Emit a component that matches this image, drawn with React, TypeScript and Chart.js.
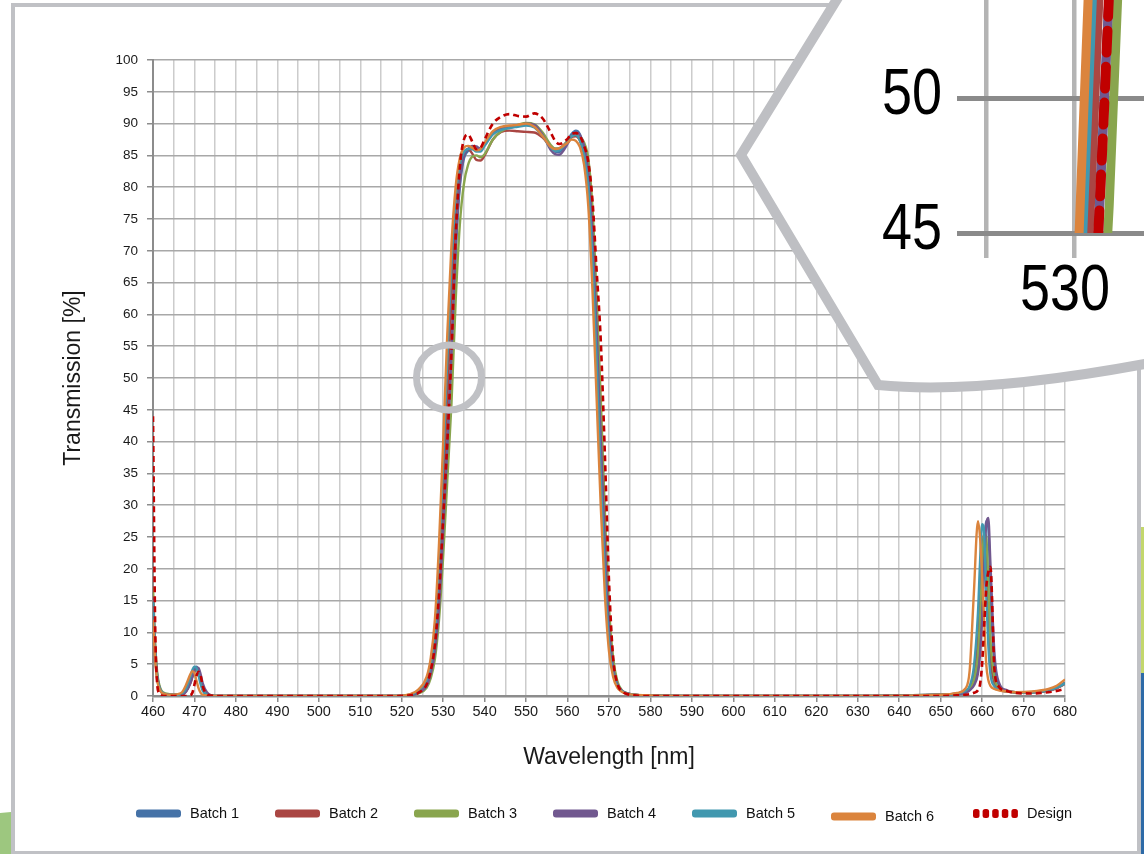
import React, { useEffect, useRef } from 'react';
import { Chart, registerables } from 'chart.js';

Chart.register(...registerables);

// ---------------- data ----------------
const WAVELENGTH_NM = [
  460, 460.5, 461, 461.5, 462, 463, 464, 466,
  467, 468, 469, 469.5, 470, 470.5, 471, 471.5, 472, 473, 474, 476,
  500, 518, 522, 524, 526, 527, 528, 529, 530, 531, 532, 533, 534, 535, 536, 537, 538, 539, 540,
  542, 544, 546, 548, 550, 552, 554, 556, 557, 558, 560, 561, 562, 563, 564, 565, 566, 567, 568, 569, 570, 571, 572, 573, 574, 576, 580,
  600, 630, 650, 654, 656, 657, 658, 659, 659.5, 660, 660.5, 661, 661.5, 662, 663, 664, 666, 668, 672, 676, 678, 680,
];

const BATCH_1 = [
  15.5, 7.5, 3.2, 1.5, 0.7, 0.3, 0.2, 0.2,
  0.3, 1.0, 2.6, 3.7, 4.4, 4.6, 4.0, 2.8, 1.5, 0.4, 0.1, 0,
  0, 0, 0.1, 0.5, 1.7, 3.7, 7.5, 15, 27, 40, 54, 70, 80, 84.5, 85.7, 86.0, 85.9, 86.0, 86.8,
  88.5, 89.2, 89.4, 89.6, 90.0, 89.8, 88.3, 86.3, 85.6, 85.5, 87.3, 88.4, 88.9, 88.3, 86.2, 82, 72, 57, 40, 23, 10, 4.2, 1.8, 0.9, 0.5, 0.2, 0.1,
  0, 0, 0.2, 0.3, 0.6, 1.0, 2.0, 5.0, 9, 15, 23, 27.5, 26.5, 17, 4.5, 1.8, 0.8, 0.6, 0.6, 0.9, 1.3, 2.1,
];

const BATCH_2 = [
  14, 6.5, 2.8, 1.3, 0.6, 0.3, 0.2, 0.2,
  0.3, 0.8, 2.0, 3.0, 3.8, 4.1, 3.8, 2.6, 1.4, 0.4, 0.1, 0,
  0, 0, 0.2, 0.7, 2.2, 4.5, 9, 19, 33, 47, 63, 75, 82, 85, 86, 85.3, 84.3, 84.2, 85,
  87.5, 88.7, 88.9, 88.8, 88.7, 88.6, 87.8, 86.4, 86.0, 86.1, 87.2, 87.9, 88.0, 87.3, 85.3, 80.5, 70, 55, 38, 21, 9.5, 4, 1.7, 0.9, 0.5, 0.2, 0.1,
  0, 0, 0.2, 0.4, 0.7, 1.2, 3.0, 8.5, 15, 22, 25.5, 22, 13, 6, 2, 1.1, 0.7, 0.6, 0.6, 0.8, 1.2, 1.9,
];

const BATCH_3 = [
  17, 8.5, 3.8, 1.8, 0.9, 0.4, 0.3, 0.2,
  0.3, 0.8, 2.2, 3.2, 3.9, 4.1, 3.6, 2.5, 1.3, 0.4, 0.1, 0,
  0, 0, 0.1, 0.4, 1.3, 2.8, 5.8, 12, 22, 34, 46, 62, 74, 80.5, 83.5, 84.8, 85.0, 84.7, 85.2,
  87.5, 88.8, 89.4, 89.8, 90.1, 89.9, 88.6, 86.6, 86.1, 86.1, 87.3, 88.0, 88.3, 88.0, 87.0, 84.5, 77, 63, 47, 29, 14, 6, 2.4, 1.0, 0.5, 0.2, 0.1,
  0, 0, 0.2, 0.3, 0.6, 1.1, 2.5, 6.5, 12, 20, 25.5, 25, 18, 9, 2.8, 1.4, 0.8, 0.6, 0.6, 0.9, 1.3, 2.0,
];

const BATCH_4 = [
  15.5, 7.5, 3.3, 1.5, 0.7, 0.3, 0.2, 0.2,
  0.2, 0.7, 2.0, 3.0, 4.0, 4.5, 4.4, 3.4, 2.0, 0.6, 0.1, 0,
  0, 0, 0.1, 0.5, 1.6, 3.5, 7, 14, 26, 39, 54, 70, 80.5, 85, 86, 86.5, 86.4, 86.1, 86.7,
  88.5, 89.2, 89.4, 89.6, 90.0, 89.8, 88.2, 85.8, 85.2, 85.1, 86.8, 88.0, 88.6, 88.2, 86.5, 82.5, 73, 58, 41, 24, 11, 4.5, 1.9, 0.9, 0.5, 0.2, 0.1,
  0, 0, 0.2, 0.3, 0.5, 0.9, 1.6, 3.5, 6.5, 12, 20, 27, 28, 21, 6.5, 2.2, 0.9, 0.6, 0.6, 0.9, 1.3, 2.0,
];

const BATCH_5 = [
  15, 7, 3, 1.4, 0.7, 0.3, 0.2, 0.2,
  0.4, 1.2, 3.0, 4.1, 4.6, 4.4, 3.2, 1.8, 0.8, 0.2, 0.05, 0,
  0, 0, 0.2, 0.8, 2.5, 5, 10, 21, 37, 53, 68, 78, 83.5, 85.5, 86, 86, 85.6, 85.6, 86.5,
  88.3, 89.0, 89.3, 89.5, 89.7, 89.4, 88.0, 86.2, 85.7, 85.8, 87.2, 88.0, 88.2, 87.3, 85, 80, 69, 53, 35, 19, 8.5, 3.5, 1.5, 0.8, 0.5, 0.2, 0.1,
  0, 0, 0.2, 0.4, 0.8, 1.6, 4.5, 13, 21, 27, 25.5, 16, 8, 3.5, 1.5, 1.0, 0.7, 0.6, 0.6, 0.9, 1.3, 2.0,
];

const BATCH_6 = [
  12, 6, 2.5, 1.2, 0.6, 0.3, 0.2, 0.3,
  0.6, 1.8, 3.4, 3.9, 3.6, 2.4, 1.2, 0.5, 0.2, 0.1, 0, 0,
  0, 0, 0.3, 1.0, 3.0, 6, 12, 24, 40, 57, 71, 80, 84.5, 86.2, 86.5, 86.2, 85.8, 86.0, 87.0,
  88.8, 89.5, 89.7, 89.8, 90.0, 89.5, 88.0, 86.3, 86.0, 86.1, 87.0, 87.5, 87.3, 86.3, 83.5, 77, 64, 47, 30, 16, 7, 3, 1.3, 0.7, 0.4, 0.2, 0.1,
  0, 0, 0.2, 0.5, 1.2, 4, 16, 27.5, 25, 19, 12, 5, 2.5, 1.6, 1.1, 0.9, 0.7, 0.6, 0.7, 1.1, 1.6, 2.6,
];

const DESIGN = [
  44, 12, 2, 0.4, 0.1, 0, 0, 0,
  0, 0, 0.1, 0.5, 1.8, 3.2, 3.8, 3.2, 1.5, 0.3, 0.05, 0,
  0, 0, 0.1, 0.5, 1.8, 4, 8, 16, 28, 40, 54, 72, 83, 87.5, 88.3, 87.2, 86, 86.2, 87.5,
  90, 91.1, 91.5, 91.2, 91.1, 91.6, 90.8, 88.5, 87.3, 86.8, 87.6, 88.4, 88.5, 88, 86.5, 84, 78, 67, 56, 38, 18, 6, 2, 0.8, 0.4, 0.1, 0,
  0, 0, 0, 0.1, 0.2, 0.3, 0.5, 0.9, 1.8, 5, 11, 17, 19.5, 20.3, 4, 1.5, 0.8, 0.5, 0.4, 0.6, 0.8, 1.1,
];

const SERIES_LABELS = ['Batch 1', 'Batch 2', 'Batch 3', 'Batch 4', 'Batch 5', 'Batch 6', 'Design'];
const SERIES_VALUES = [BATCH_1, BATCH_2, BATCH_3, BATCH_4, BATCH_5, BATCH_6, DESIGN];

const X_TICK_LABELS = [460, 470, 480, 490, 500, 510, 520, 530, 540, 550, 560, 570, 580, 590, 600, 610, 620, 630, 640, 650, 660, 670, 680];
const Y_TICK_LABELS = [0, 5, 10, 15, 20, 25, 30, 35, 40, 45, 50, 55, 60, 65, 70, 75, 80, 85, 90, 95, 100];
const ZOOM_Y_TICK_LABELS = [45, 50];
const ZOOM_X_TICKS = [525, 530];
const ZOOM_X_TICK_LABELS = [530];

// ---------------- styles ----------------
const COLORS = ['#4572A7', '#AA4643', '#89A54E', '#71588F', '#4198AF', '#DB843D', '#C00000'];
const DRAW_ORDER = [6, 5, 4, 3, 2, 1, 0];
const FONT = '"Liberation Sans", Arial, Helvetica, sans-serif';
const W = 1144;
const H = 854;

const LEGEND_LAYOUT = [
  { x: 136, y: 813.5, tx: 190 },
  { x: 275, y: 813.5, tx: 329 },
  { x: 414, y: 813.5, tx: 468 },
  { x: 553, y: 813.5, tx: 607 },
  { x: 692, y: 813.5, tx: 746 },
  { x: 831, y: 816.5, tx: 885 },
  { x: 973, y: 813.5, tx: 1027 },
];

function buildDatasets(width: number, dash: number[], dashCap: string, clip: any) {
  return SERIES_LABELS.map((label, k) => {
    const dashed = k === SERIES_LABELS.length - 1;
    return {
      label,
      data: WAVELENGTH_NM.map((x, i) => ({ x, y: SERIES_VALUES[k][i] })),
      borderColor: COLORS[k],
      backgroundColor: COLORS[k],
      borderWidth: dashed ? width * 1.1 : width,
      borderDash: dashed ? dash : [],
      borderCapStyle: dashed ? dashCap : 'butt',
      pointRadius: 0,
      pointHoverRadius: 0,
      fill: false,
      cubicInterpolationMode: 'monotone',
      order: DRAW_ORDER[k],
      clip,
    };
  });
}

const decorPlugin = {
  id: 'decor',
  beforeDraw(chart: any) {
    const ctx = chart.ctx as CanvasRenderingContext2D;
    ctx.save();
    ctx.fillStyle = '#ffffff';
    ctx.fillRect(0, 0, W, H);
    ctx.strokeStyle = '#c0c1c5';
    ctx.lineWidth = 4;
    ctx.strokeRect(13, 5, 1126, 848);
    ctx.fillStyle = '#9dc77f';
    ctx.beginPath();
    ctx.moveTo(0, 813);
    ctx.lineTo(11, 812);
    ctx.lineTo(11, 854);
    ctx.lineTo(0, 854);
    ctx.closePath();
    ctx.fill();
    ctx.fillStyle = '#c3d76c';
    ctx.fillRect(1141, 527, 3, 146);
    ctx.fillStyle = '#2d6aa7';
    ctx.fillRect(1141, 673, 3, 181);
    ctx.restore();
  },
  afterDraw(chart: any) {
    const ctx = chart.ctx as CanvasRenderingContext2D;
    ctx.save();
    // small magnifier ring
    ctx.strokeStyle = '#c0c1c5';
    ctx.lineWidth = 7;
    ctx.beginPath();
    ctx.arc(449, 377.5, 32.5, 0, Math.PI * 2);
    ctx.stroke();
    // big magnifier callout
    ctx.beginPath();
    ctx.moveTo(855, -30);
    ctx.lineTo(741, 155);
    ctx.lineTo(878, 385);
    ctx.quadraticCurveTo(980, 395, 1150, 363);
    ctx.lineTo(1160, -30);
    ctx.closePath();
    ctx.fillStyle = '#ffffff';
    ctx.fill();
    ctx.lineWidth = 10;
    ctx.lineJoin = 'miter';
    ctx.strokeStyle = '#bebfc3';
    ctx.stroke();
    // legend
    ctx.font = `14.5px ${FONT}`;
    ctx.textBaseline = 'middle';
    ctx.textAlign = 'left';
    SERIES_LABELS.forEach((label, k) => {
      const p = LEGEND_LAYOUT[k];
      ctx.fillStyle = COLORS[k];
      if (k === SERIES_LABELS.length - 1) {
        for (let j = 0; j < 5; j++) {
          ctx.beginPath();
          (ctx as any).roundRect(p.x + j * 9.6, p.y - 4.5, 6.5, 9, 2.5);
          ctx.fill();
        }
      } else {
        ctx.beginPath();
        (ctx as any).roundRect(p.x, p.y - 4, 45, 8, 3);
        ctx.fill();
      }
      ctx.fillStyle = '#111111';
      ctx.fillText(label, p.tx, p.y);
    });
    ctx.restore();
  },
};

// condensed tick labels for the magnified view
const zoomLabelPlugin = {
  id: 'zoomLabels',
  afterDraw(chart: any) {
    const ctx = chart.ctx as CanvasRenderingContext2D;
    const xs = chart.scales.x;
    const ys = chart.scales.y;
    ctx.save();
    ctx.font = `65px ${FONT}`;
    ctx.fillStyle = '#000000';
    ctx.textBaseline = 'middle';
    ZOOM_Y_TICK_LABELS.forEach((v) => {
      ctx.save();
      ctx.translate(942, ys.getPixelForValue(v) - 2);
      ctx.scale(0.83, 1);
      ctx.textAlign = 'right';
      ctx.fillText(String(v), 0, 0);
      ctx.restore();
    });
    ZOOM_X_TICK_LABELS.forEach((v) => {
      ctx.save();
      ctx.translate(xs.getPixelForValue(v) - 9, 292);
      ctx.scale(0.83, 1);
      ctx.textAlign = 'center';
      ctx.fillText(String(v), 0, 0);
      ctx.restore();
    });
    ctx.restore();
  },
};

function mainConfig(): any {
  return {
    type: 'line',
    data: { datasets: buildDatasets(2.4, [6, 4], 'butt', undefined) },
    plugins: [decorPlugin],
    options: {
      responsive: false,
      animation: false,
      events: [],
      layout: { padding: { top: 60, right: 79, bottom: 0, left: 0 } },
      plugins: { legend: { display: false }, tooltip: { enabled: false } },
      scales: {
        x: {
          type: 'linear',
          min: X_TICK_LABELS[0],
          max: X_TICK_LABELS[X_TICK_LABELS.length - 1],
          ticks: {
            stepSize: 5,
            autoSkip: false,
            maxRotation: 0,
            padding: 1,
            color: '#1a1a1a',
            font: { family: FONT, size: 14.5 },
            callback: (v: number) => (X_TICK_LABELS.includes(v) ? String(v) : ''),
          },
          grid: {
            color: '#cccccc',
            lineWidth: 1.5,
            tickLength: 6,
            tickColor: (c: any) => (c.tick && X_TICK_LABELS.includes(c.tick.value) ? '#8c8c8c' : 'rgba(0,0,0,0)'),
          },
          border: { color: '#8c8c8c', width: 2.5 },
          title: {
            display: true,
            text: 'Wavelength [nm]',
            color: '#1a1a1a',
            font: { family: FONT, size: 23 },
            padding: { top: 0, bottom: 83 },
          },
          afterFit: (s: any) => {
            s.height = 158;
          },
        },
        y: {
          type: 'linear',
          min: Y_TICK_LABELS[0],
          max: Y_TICK_LABELS[Y_TICK_LABELS.length - 1],
          ticks: {
            stepSize: 5,
            autoSkip: false,
            padding: 9,
            color: '#1a1a1a',
            font: { family: FONT, size: 13.5 },
            callback: (v: number) => (Y_TICK_LABELS.includes(v) ? String(v) : ''),
          },
          grid: { color: '#a8a8a8', lineWidth: 1.5, tickLength: 6, tickColor: '#8c8c8c' },
          border: { color: '#8c8c8c', width: 2 },
          title: {
            display: true,
            text: 'Transmission [%]',
            color: '#1a1a1a',
            font: { family: FONT, size: 23 },
            padding: { top: 60, bottom: 0 },
          },
          afterFit: (s: any) => {
            s.width = 153;
          },
        },
      },
    },
  };
}

function zoomConfig(): any {
  return {
    type: 'line',
    data: { datasets: buildDatasets(9, [22, 14], 'round', 0) },
    plugins: [zoomLabelPlugin],
    options: {
      responsive: false,
      animation: false,
      events: [],
      layout: { padding: 0 },
      plugins: { legend: { display: false }, tooltip: { enabled: false } },
      scales: {
        x: {
          type: 'linear',
          min: 525,
          max: 533.977,
          afterBuildTicks: (s: any) => {
            s.ticks = ZOOM_X_TICKS.map((value) => ({ value }));
          },
          ticks: { display: false, autoSkip: false, maxRotation: 0 },
          grid: { color: '#b4b4b4', lineWidth: 4.5, tickLength: 25 },
          border: { display: false },
          afterFit: (s: any) => {
            s.height = 621;
            s.paddingLeft = 0;
            s.paddingRight = 0;
          },
        },
        y: {
          type: 'linear',
          min: 45,
          max: 53.63,
          afterBuildTicks: (s: any) => {
            s.ticks = ZOOM_Y_TICK_LABELS.map((value) => ({ value }));
          },
          ticks: { display: false, autoSkip: false },
          grid: { color: '#8a8a8a', lineWidth: 5, tickLength: 29 },
          border: { display: false },
          afterFit: (s: any) => {
            s.width = 986;
            s.paddingTop = 0;
            s.paddingBottom = 0;
          },
        },
      },
    },
  };
}

export default function App() {
  const mainRef = useRef<HTMLCanvasElement>(null);
  const zoomRef = useRef<HTMLCanvasElement>(null);

  useEffect(() => {
    const main = new Chart(mainRef.current as HTMLCanvasElement, mainConfig());
    const zoom = new Chart(zoomRef.current as HTMLCanvasElement, zoomConfig());
    return () => {
      main.destroy();
      zoom.destroy();
    };
  }, []);

  const canvasStyle: React.CSSProperties = { position: 'absolute', left: 0, top: 0, width: W, height: H };
  return (
    <div style={{ position: 'absolute', left: 0, top: 0, width: W, height: H, background: '#ffffff', overflow: 'hidden' }}>
      <canvas ref={mainRef} width={W} height={H} style={canvasStyle} />
      <canvas ref={zoomRef} width={W} height={H} style={canvasStyle} />
    </div>
  );
}
